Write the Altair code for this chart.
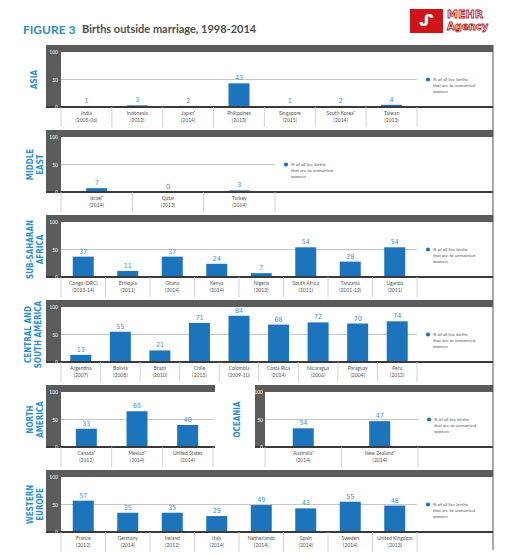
import altair as alt
import pandas as pd

# ---- data: % of all live births that are to unmarried women ----
asia_countries = ["India", "Indonesia", "Japanᵃ", "Philippines", "Singapore", "South Koreaᵃ", "Taiwan"]
asia_years = ["(2005-06)", "(2012)", "(2014)", "(2013)", "(2015)", "(2014)", "(2013)"]
asia_values = [1, 3, 2, 43, 1, 2, 4]

me_countries = ["Israelᵃ", "Qatar", "Turkey"]
me_years = ["(2014)", "(2013)", "(2014)"]
me_values = [7, 0, 3]

ssa_countries = ["Congo (DRC)", "Ethiopia", "Ghana", "Kenya", "Nigeria", "South Africa", "Tanzania", "Uganda"]
ssa_years = ["(2013-14)", "(2011)", "(2014)", "(2014)", "(2013)", "(2011)", "(2011-12)", "(2011)"]
ssa_values = [37, 11, 37, 24, 7, 54, 28, 54]

csa_countries = ["Argentina", "Bolivia", "Brazil", "Chile", "Colombia", "Costa Rica", "Nicaragua", "Paraguay", "Peru"]
csa_years = ["(2007)", "(2008)", "(2010)", "(2013)", "(2009-10)", "(2014)", "(2006)", "(2004)", "(2012)"]
csa_values = [13, 55, 21, 71, 84, 68, 72, 70, 74]

na_countries = ["Canadaᵃ", "Mexicoᵃ", "United States"]
na_years = ["(2012)", "(2014)", "(2014)"]
na_values = [33, 65, 40]

oce_countries = ["Australiaᵃ", "New Zealandᵃ"]
oce_years = ["(2014)", "(2014)"]
oce_values = [34, 47]

we_countries = ["France", "Germany", "Ireland", "Italy", "Netherlands", "Spain", "Sweden", "United Kingdom"]
we_years = ["(2012)", "(2014)", "(2012)", "(2014)", "(2014)", "(2014)", "(2014)", "(2013)"]
we_values = [57, 35, 35, 29, 49, 43, 55, 48]

y_ticks = [0, 50, 100]
legend_text = "% of all live births\nthat are to unmarried\nwomen"

# ---- styling ----
BAR = "#1b74bc"
LABEL_BLUE = "#3a93d6"
REGION_BLUE = "#2a90d6"
DARK = "#5b5b5b"
NARROW = "DejaVu Sans Condensed, Liberation Sans Narrow, sans-serif"
H = 55
one = pd.DataFrame({"k": [0]})
yscale = alt.Scale(domain=[0, 100], nice=False)


def region_layers(countries, years, values, x0, plot_w, cat_span, region, region_x=-30,
                  strip=15, legend=True, right_edge=23):
    """All marks of one regional bar panel, placed from x0 within its view."""
    df = pd.DataFrame({
        "country": countries,
        "label": [f"{c}\n{y}" for c, y in zip(countries, years)],
        "value": values,
    })
    xscale = alt.Scale(range=[x0, x0 + cat_span], paddingInner=0, paddingOuter=0)
    x = alt.X("country:N", sort=countries, scale=xscale, axis=None)
    base = alt.Chart(df)
    end = x0 + plot_w

    frame_top = alt.Chart(one).mark_rule(color=DARK, strokeWidth=7).encode(
        x=alt.value(x0 - strip), x2=alt.value(end), y=alt.value(-3.5))
    frame_left = alt.Chart(one).mark_rule(color=DARK, strokeWidth=strip).encode(
        x=alt.value(x0 - strip / 2), y=alt.value(-7), y2=alt.value(H))
    tick_text = alt.Chart(pd.DataFrame({"tick": y_ticks})).mark_text(
        align="right", baseline="middle", fontSize=5, font="Lato", color="white").encode(
        x=alt.value(x0 - 3 if strip > 12 else x0 - 2),
        y=alt.Y("tick:Q", scale=yscale, axis=None), text="tick:Q")
    grid50 = alt.Chart(one).mark_rule(color="#b8b8b8", strokeWidth=0.8).encode(
        x=alt.value(x0), x2=alt.value(x0 + cat_span if legend else end),
        y=alt.YDatum(50, scale=yscale, axis=None))
    bars = base.mark_bar(size=21, color=BAR).encode(
        x=x, y=alt.Y("value:Q", scale=yscale, axis=None))
    baseline = alt.Chart(one).mark_rule(color="#3a3a3a", strokeWidth=2).encode(
        x=alt.value(x0 - strip), x2=alt.value(end), y=alt.value(H))
    value_text = base.mark_text(dy=-2, baseline="bottom", fontSize=7, font=NARROW,
                                color=LABEL_BLUE).encode(
        x=x, y=alt.Y("value:Q", scale=yscale, axis=None), text="value:Q")
    dividers = base.mark_rule(color="#c6c6c6", strokeWidth=0.8).encode(
        x=alt.X("country:N", sort=countries, scale=xscale, axis=None, bandPosition=0),
        y=alt.value(H), y2=alt.value(H + 20))
    last_divider = alt.Chart(one).mark_rule(color="#c6c6c6", strokeWidth=0.8).encode(
        x=alt.value(x0 + cat_span), y=alt.value(H), y2=alt.value(H + 20))
    cat_text = base.mark_text(baseline="top", fontSize=5, lineHeight=6.5, lineBreak="\n",
                              font="Lato", color="#555555").encode(
        x=x, y=alt.value(H + 4), text="label:N")
    region_text = alt.Chart(one).mark_text(
        angle=270, align="center", baseline="middle", fontSize=8, lineHeight=9.5,
        lineBreak="\n", font=NARROW, fontWeight="bold", color=REGION_BLUE).encode(
        x=alt.value(x0 + region_x), y=alt.value(H / 2), text=alt.value(region))

    layers = [frame_top, frame_left, grid50, bars, baseline, value_text,
              dividers, last_divider, cat_text, region_text, tick_text]
    if right_edge is not None:
        layers.append(alt.Chart(one).mark_rule(color="#555555", strokeWidth=1).encode(
            x=alt.value(end), y=alt.value(-7), y2=alt.value(H + right_edge)))
    if legend:
        layers.append(alt.Chart(one).mark_circle(size=18, color=BAR, opacity=1).encode(
            x=alt.value(x0 + cat_span + 11), y=alt.YDatum(50, scale=yscale, axis=None)))
        layers.append(alt.Chart(one).mark_text(
            align="left", baseline="middle", fontSize=4.5, lineHeight=6, lineBreak="\n",
            font="Lato", color="#555555").encode(
            x=alt.value(x0 + cat_span + 16), y=alt.YDatum(50, scale=yscale, axis=None),
            text=alt.value(legend_text)))
    return layers


def page_corner(px, py):
    """Invisible 1px square that pins a corner of the page bounds."""
    return alt.Chart(one).mark_point(shape="square", size=1, opacity=0, filled=True).encode(
        x=alt.value(px), y=alt.value(py))


# heading and agency mark, drawn with the first panel
heading = [
    page_corner(-60.5, -51.5),
    alt.Chart(one).mark_text(align="left", baseline="middle", fontSize=12, font="Lato",
                             fontWeight="bold", color="#2b8cc4").encode(
        x=alt.value(-38), y=alt.value(-22), text=alt.value("FIGURE 3")),
    alt.Chart(one).mark_text(align="left", baseline="middle", fontSize=11, font="Lato",
                             fontWeight="bold", color="#4d4d4d").encode(
        x=alt.value(21), y=alt.value(-22), text=alt.value("Births outside marriage, 1998-2014")),
    alt.Chart(one).mark_rule(color="#d0121b", strokeWidth=24).encode(
        x=alt.value(349), x2=alt.value(382), y=alt.value(-31)),
    alt.Chart(one).mark_text(align="center", baseline="middle", fontSize=16, font="DejaVu Sans",
                             fontWeight="bold", color="white").encode(
        x=alt.value(365.5), y=alt.value(-31), text=alt.value("ᔑ")),
    alt.Chart(one).mark_text(align="left", baseline="middle", fontSize=11, font="DejaVu Sans",
                             fontWeight="bold", color="#eeeeee", stroke="#c0161c",
                             strokeWidth=0.8).encode(
        x=alt.value(386), y=alt.value(-37), text=alt.value("MEHR")),
    alt.Chart(one).mark_text(align="left", baseline="middle", fontSize=10, font="DejaVu Sans",
                             fontWeight="bold", color="#eeeeee", stroke="#c0161c",
                             strokeWidth=0.8).encode(
        x=alt.value(386), y=alt.value(-25), text=alt.value("Agency")),
]

W = 432
asia = alt.layer(*region_layers(asia_countries, asia_years, asia_values, 0, W, 356, "ASIA",
                                region_x=-26), *heading).properties(width=W, height=H)
me = alt.layer(*region_layers(me_countries, me_years, me_values, 0, W, 214,
                              "MIDDLE\nEAST")).properties(width=W, height=H)
ssa = alt.layer(*region_layers(ssa_countries, ssa_years, ssa_values, 0, W, 356,
                               "SUB-SAHARAN\nAFRICA")).properties(width=W, height=H)
csa = alt.layer(*region_layers(csa_countries, csa_years, csa_values, 0, W, 356,
                               "CENTRAL AND\nSOUTH AMERICA", region_x=-32)).properties(width=W, height=H)
# North America and Oceania share one row, each with its own category scale
na_oce = alt.layer(
    alt.layer(*region_layers(na_countries, na_years, na_values, 0, 154, 152, "NORTH\nAMERICA",
                             legend=False, right_edge=None)),
    alt.layer(*region_layers(oce_countries, oce_years, oce_values, 204, 228, 153, "OCEANIA",
                             region_x=-27, strip=10)),
).resolve_scale(x="independent").properties(width=W, height=H)
we = alt.layer(*region_layers(we_countries, we_years, we_values, 0, W, 356,
                              "WESTERN\nEUROPE", right_edge=18),
               page_corner(450.5, 81.5)).properties(width=W, height=H)

chart = alt.vconcat(asia, me, ssa, csa, na_oce, we, spacing=30, bounds="flush").configure_view(
    stroke=None
).properties(
    background="white",
    padding=0,
)

chart.save("out.html", embed_options={"renderer": "svg", "actions": False})
